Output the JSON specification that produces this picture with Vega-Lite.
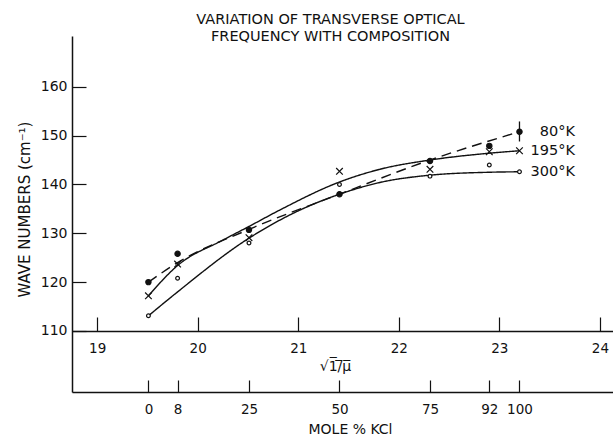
{
  "$schema": "https://vega.github.io/schema/vega-lite/v6.json",
  "width": 541,
  "height": 356,
  "autosize": "none",
  "padding": {"left": 72, "top": 36, "right": 0, "bottom": 44},
  "background": "white",
  "config": {
    "view": {"stroke": null},
    "font": "DejaVu Sans",
    "axis": {
      "grid": false,
      "labelFont": "DejaVu Sans",
      "titleFont": "DejaVu Sans",
      "titleFontWeight": "normal",
      "domainColor": "#111",
      "domainWidth": 1.5,
      "tickColor": "#111",
      "tickWidth": 1.2,
      "labelColor": "#111",
      "titleColor": "#111"
    }
  },
  "title": {
    "text": ["VARIATION OF TRANSVERSE OPTICAL", "FREQUENCY WITH COMPOSITION"],
    "frame": "group",
    "anchor": "middle",
    "dx": -12,
    "offset": -8,
    "fontSize": 14.5,
    "fontWeight": "normal",
    "lineHeight": 16.5,
    "font": "DejaVu Sans",
    "color": "#111"
  },
  "datasets": {
    "curves": [
      {"temp": "80°K", "s": 19.51, "wn": 120.0},
      {"temp": "80°K", "s": 19.80, "wn": 124.0},
      {"temp": "80°K", "s": 20.51, "wn": 130.8},
      {"temp": "80°K", "s": 21.41, "wn": 138.0},
      {"temp": "80°K", "s": 22.31, "wn": 145.0},
      {"temp": "80°K", "s": 23.20, "wn": 150.8},
      {"temp": "195°K", "s": 19.51, "wn": 117.2},
      {"temp": "195°K", "s": 19.80, "wn": 123.4},
      {"temp": "195°K", "s": 20.25, "wn": 128.6},
      {"temp": "195°K", "s": 20.51, "wn": 131.4},
      {"temp": "195°K", "s": 20.82, "wn": 134.8},
      {"temp": "195°K", "s": 21.41, "wn": 140.5},
      {"temp": "195°K", "s": 21.81, "wn": 143.1},
      {"temp": "195°K", "s": 22.31, "wn": 145.0},
      {"temp": "195°K", "s": 22.90, "wn": 146.4},
      {"temp": "195°K", "s": 23.20, "wn": 146.9},
      {"temp": "300°K", "s": 19.51, "wn": 113.1},
      {"temp": "300°K", "s": 19.80, "wn": 118.0},
      {"temp": "300°K", "s": 20.51, "wn": 129.0},
      {"temp": "300°K", "s": 20.95, "wn": 134.1},
      {"temp": "300°K", "s": 21.41, "wn": 138.0},
      {"temp": "300°K", "s": 21.81, "wn": 140.4},
      {"temp": "300°K", "s": 22.31, "wn": 141.9},
      {"temp": "300°K", "s": 22.90, "wn": 142.5},
      {"temp": "300°K", "s": 23.20, "wn": 142.6}
    ],
    "points": [
      {"temp": "80°K", "mole": 0, "s": 19.51, "wn": 120.0},
      {"temp": "80°K", "mole": 8, "s": 19.80, "wn": 125.8},
      {"temp": "80°K", "mole": 25, "s": 20.51, "wn": 130.7},
      {"temp": "80°K", "mole": 50, "s": 21.41, "wn": 138.0},
      {"temp": "80°K", "mole": 75, "s": 22.31, "wn": 144.8},
      {"temp": "80°K", "mole": 92, "s": 22.90, "wn": 147.9},
      {"temp": "80°K", "mole": 100, "s": 23.20, "wn": 150.8},
      {"temp": "195°K", "mole": 0, "s": 19.51, "wn": 117.2},
      {"temp": "195°K", "mole": 8, "s": 19.80, "wn": 123.7},
      {"temp": "195°K", "mole": 25, "s": 20.51, "wn": 129.1},
      {"temp": "195°K", "mole": 50, "s": 21.41, "wn": 142.7},
      {"temp": "195°K", "mole": 75, "s": 22.31, "wn": 143.1},
      {"temp": "195°K", "mole": 92, "s": 22.90, "wn": 146.7},
      {"temp": "195°K", "mole": 100, "s": 23.20, "wn": 146.9},
      {"temp": "300°K", "mole": 0, "s": 19.51, "wn": 113.1},
      {"temp": "300°K", "mole": 8, "s": 19.80, "wn": 120.8},
      {"temp": "300°K", "mole": 25, "s": 20.51, "wn": 128.0},
      {"temp": "300°K", "mole": 50, "s": 21.41, "wn": 140.0},
      {"temp": "300°K", "mole": 75, "s": 22.31, "wn": 141.7},
      {"temp": "300°K", "mole": 92, "s": 22.90, "wn": 144.0},
      {"temp": "300°K", "mole": 100, "s": 23.20, "wn": 142.6}
    ],
    "errbar": [
      {"temp": "80°K", "s": 23.20, "wn": 148.8, "hi": 152.9}
    ],
    "labels": [
      {"temp": "80°K", "s": 23.20, "wn": 150.8},
      {"temp": "195°K", "s": 23.20, "wn": 146.9},
      {"temp": "300°K", "s": 23.20, "wn": 142.6}
    ]
  },
  "layer": [
    {
      "data": {"name": "curves"},
      "mark": {"type": "line", "interpolate": "monotone", "color": "#111", "strokeWidth": 1.4},
      "encoding": {
        "x": {
          "field": "s",
          "type": "quantitative",
          "scale": {"domain": [18.75, 24.13], "nice": false, "zero": false},
          "axis": {
            "orient": "bottom",
            "offset": -61,
            "values": [19, 20, 21, 22, 23, 24],
            "tickSize": -14,
            "labelPadding": 24,
            "labelFontSize": 13.5,
            "title": "√1̅/̅μ̅",
            "titleFontSize": 14,
            "titlePadding": 5,
            "titleX": 263
          }
        },
        "y": {
          "field": "wn",
          "type": "quantitative",
          "scale": {"domain": [97.5, 170.4], "nice": false, "zero": false},
          "axis": {
            "values": [110, 120, 130, 140, 150, 160],
            "tickSize": -14,
            "labelPadding": 19,
            "labelFontSize": 14,
            "title": "WAVE NUMBERS (cm⁻¹)",
            "titleFontSize": 15,
            "titlePadding": 8,
            "titleY": 173
          }
        },
        "detail": {"field": "temp"},
        "strokeDash": {
          "field": "temp",
          "scale": {"domain": ["80°K", "195°K", "300°K"], "range": [[10, 6], [1, 0], [1, 0]]},
          "legend": null
        }
      }
    },
    {
      "data": {"name": "errbar"},
      "mark": {"type": "rule", "color": "#111", "strokeWidth": 1.3},
      "encoding": {
        "x": {"field": "s", "type": "quantitative", "axis": null},
        "y": {"field": "wn", "type": "quantitative"},
        "y2": {"field": "hi"}
      }
    },
    {
      "data": {"name": "points"},
      "mark": {"type": "point", "filled": true, "stroke": "#111", "strokeWidth": 1.2, "opacity": 1},
      "encoding": {
        "x": {
          "field": "s",
          "type": "quantitative",
          "axis": {
            "orient": "bottom",
            "offset": 0,
            "values": [19.51, 19.80, 20.51, 21.41, 22.31, 22.90, 23.20],
            "labelExpr": "datum.value < 19.6 ? '0' : datum.value < 20 ? '8' : datum.value < 21 ? '25' : datum.value < 22 ? '50' : datum.value < 22.6 ? '75' : datum.value < 23.05 ? '92' : '100'",
            "tickSize": -12,
            "labelPadding": 22,
            "labelFontSize": 13.5,
            "title": "MOLE % KCl",
            "titleFontSize": 14,
            "titlePadding": 7,
            "titleX": 278
          }
        },
        "y": {"field": "wn", "type": "quantitative"},
        "shape": {
          "field": "temp",
          "scale": {"type": "ordinal", "domain": ["80°K", "195°K", "300°K"], "range": ["circle", "M-1,-1L1,1M1,-1L-1,1", "circle"]},
          "legend": null
        },
        "fill": {
          "field": "temp",
          "scale": {"type": "ordinal", "domain": ["80°K", "195°K", "300°K"], "range": ["#111", "transparent", "white"]},
          "legend": null
        },
        "size": {
          "field": "temp",
          "type": "nominal",
          "scale": {"type": "ordinal", "domain": ["80°K", "195°K", "300°K"], "range": [28, 44, 14]},
          "legend": null
        }
      }
    },
    {
      "data": {"name": "labels"},
      "mark": {"type": "text", "align": "right", "baseline": "middle", "dx": 55.5, "fontSize": 14.5, "font": "DejaVu Sans", "color": "#111"},
      "encoding": {
        "x": {"field": "s", "type": "quantitative", "axis": null},
        "y": {"field": "wn", "type": "quantitative"},
        "text": {"field": "temp"}
      }
    }
  ],
  "resolve": {"axis": {"x": "independent"}}
}
